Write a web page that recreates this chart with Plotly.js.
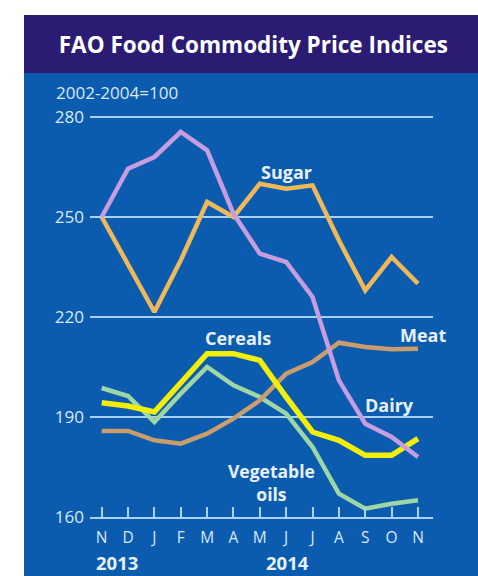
<!DOCTYPE html>
<html>
<head>
<meta charset="utf-8">
<script src="https://cdn.plot.ly/plotly-3.0.1.min.js"></script>
<style>html,body{margin:0;padding:0;background:#fff;}#chart{width:478px;height:576px;}</style>
</head>
<body>
<div id="chart"></div>
<script>
// Months Nov 2013 .. Nov 2014
const monthLabels = ['N','D','J','F','M','A','M','J','J','A','S','O','N'];
const yearLabels = ['2013','2014'];
const yTicks = [160, 190, 220, 250, 280];

const sugar    = [250, 236, 221.5, 237, 254.5, 250, 260, 258.5, 259.5, 243, 228, 238, 230];
const dairy    = [250, 264.5, 268, 275.5, 270, 251, 239, 236.5, 226, 201, 188, 184, 178];
const meat     = [185.8, 185.8, 183, 182, 185, 189.5, 195, 203, 206.5, 212.3, 211, 210.3, 210.5];
const cereals  = [194.3, 193.3, 191.5, 200, 209, 209, 207, 196, 185.5, 183, 178.5, 178.5, 183.5];
const vegOils  = [198.7, 196.3, 188.5, 197, 205, 199.5, 196, 191, 181, 167, 162.5, 164, 165];

const xIdx = monthLabels.map((_, i) => i);

function line(name, y, color, width) {
  return {type:'scatter', mode:'lines', name:name, x:xIdx, y:y,
          line:{color:color, width:width, shape:'linear'}, hoverinfo:'skip'};
}

const data = [
  line('Vegetable oils', vegOils, '#9fd6a6', 4.5),
  line('Meat', meat, '#c99d6c', 4.5),
  line('Cereals', cereals, '#f2ee0a', 5.5),
  line('Sugar', sugar, '#efb95a', 4.5),
  line('Dairy', dairy, '#c69ddf', 4.5)
];

const lblColor = '#e8f1fb';
const lblFont = {family:'Open Sans, sans-serif', size:18, color:lblColor, weight:700};
const gridCol = '#a9d2f2';

const layout = {
  width:478, height:576,
  margin:{l:90, r:45, t:107, b:59},
  paper_bgcolor:'#ffffff',
  plot_bgcolor:'rgba(0,0,0,0)',
  showlegend:false,
  title:{text:'FAO Food Commodity Price Indices', xref:'container', yref:'container',
         x:0.53, y:1-45/576, xanchor:'center', yanchor:'middle',
         font:{family:'Open Sans, sans-serif', size:22.5, color:'#ffffff', weight:700}},
  xaxis:{range:[-0.443, 12.57], tickmode:'array', tickvals:xIdx, ticktext:monthLabels,
         ticks:'inside', ticklen:10, tickwidth:2, tickcolor:gridCol,
         showline:true, linecolor:gridCol, linewidth:2, showgrid:false, zeroline:false,
         ticklabelstandoff:5,
         tickfont:{family:'Open Sans, sans-serif', size:15.5, color:'#dbe8f6'}, fixedrange:true},
  yaxis:{range:[160, 283], tickmode:'array', tickvals:yTicks, ticktext:yTicks.map(String),
         showgrid:true, gridcolor:gridCol, gridwidth:2, zeroline:false, showline:false,
         ticks:'', ticklabelstandoff:5,
         tickfont:{family:'Open Sans, sans-serif', size:17, color:'#dbe8f6'}, fixedrange:true},
  shapes:[
    {type:'rect', xref:'paper', yref:'paper', x0:(24-90)/343, x1:(478-90)/343,
     y0:(517-576)/410, y1:(517-73)/410, fillcolor:'#0b5cae', line:{width:0}, layer:'below'},
    {type:'rect', xref:'paper', yref:'paper', x0:(24-90)/343, x1:(478-90)/343,
     y0:(517-73)/410, y1:(517-15)/410, fillcolor:'#2b1b73', line:{width:0}, layer:'below'}
  ],
  annotations:[
    {text:'2002-2004=100', xref:'paper', yref:'paper', x:(54-90)/343, y:(517-93)/410,
     xanchor:'left', yanchor:'middle', showarrow:false,
     font:{family:'Open Sans, sans-serif', size:17, color:'#dbe8f6'}},
    {text:'Sugar', x:7.01, y:263.4, showarrow:false, font:lblFont},
    {text:'Cereals', x:5.17, y:213.6, showarrow:false, font:lblFont},
    {text:'Meat', x:12.18, y:214.5, showarrow:false, font:lblFont},
    {text:'Dairy', x:10.93, y:193.5, showarrow:false, font:lblFont},
    {text:'Vegetable<br>oils', x:6.44, y:170.4, showarrow:false,
     font:{family:'Open Sans, sans-serif', size:17.5, color:lblColor, weight:700}},
    {text:yearLabels[0], x:0.58, xref:'x', yref:'paper', y:(517-562)/410, yanchor:'middle',
     showarrow:false, font:{family:'Open Sans, sans-serif', size:18.5, color:lblColor, weight:700}},
    {text:yearLabels[1], x:7.06, xref:'x', yref:'paper', y:(517-562)/410, yanchor:'middle',
     showarrow:false, font:{family:'Open Sans, sans-serif', size:18.5, color:lblColor, weight:700}}
  ]
};

Plotly.newPlot('chart', data, layout, {staticPlot:true, displayModeBar:false});
</script>
</body>
</html>
